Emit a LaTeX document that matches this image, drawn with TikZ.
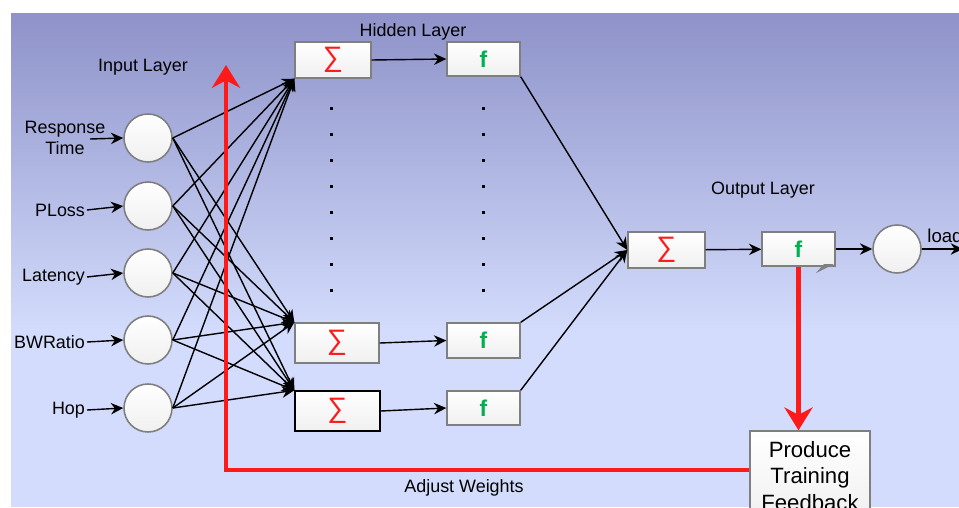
\documentclass[tikz,border=0pt]{standalone}
\usepackage{fontspec}
\setmainfont{Liberation Sans}
\usetikzlibrary{arrows.meta}
\definecolor{bgtop}{HTML}{8E92C9}
\definecolor{bgbot}{HTML}{D3DCFC}
\definecolor{sigred}{HTML}{FF1A1A}
\definecolor{fgreen}{HTML}{00B050}
\definecolor{boxline}{HTML}{7F7F7F}

\begin{document}
\begin{tikzpicture}[x=0.02cm,y=-0.02cm,font=\fontsize{10.2}{12}\selectfont]
\tikzset{unit/.style={circle,draw=boxline,line width=0.9pt,top color=white,bottom color=gray!12,minimum size=0.96cm,inner sep=0},
  sumbox/.style={draw=boxline,line width=0.8pt,top color=white,bottom color=gray!12,minimum width=1.52cm,minimum height=0.72cm,inner sep=0,text=sigred,font=\fontsize{16}{16}\selectfont},
  actbox/.style={sumbox,text=fgreen,font=\fontsize{13}{13}\selectfont\bfseries,minimum width=1.46cm,minimum height=0.68cm},
  wire/.style={-{Stealth[length=7pt,width=6.5pt]},line width=0.8pt},
  feedback/.style={sigred,line width=2.8pt,-{Stealth[length=13pt,width=16pt]}}}
\useasboundingbox (0,0) rectangle (959,507);
\clip (0,0) rectangle (959,507);
\fill[top color=bgtop,bottom color=bgbot] (11,13) rectangle (959,331);
\fill[bgbot] (11,330) rectangle (959,507);
\node (inlayer) at (143,67) {Input Layer};
\node (hidlayer) at (413,32) {Hidden Layer};
\node (outlayer) at (763,190) {Output Layer};
\node (adjust) at (464,488) {Adjust Weights};
\foreach \y [count=\i] in {138,206,273,340,408}
  \node[unit] (in\i) at (148,\y) {};
\node[align=center,inner sep=0] (lab1) at (65,138) {Response\\Time};
\coordinate (rt) at (90,139);
\draw[wire] (rt) -- (in1.west);
\foreach \t/\y [count=\i from 2] in {PLoss/210,Latency/277,BWRatio/342,Hop/410}{
  \node[anchor=east,inner sep=1pt] (lab\i) at (87,\y) {\t};
  \draw[wire] (lab\i.east) -- (in\i.west);}
\node[sumbox] (s1) at (333,60) {∑};
\node[sumbox,minimum width=1.68cm,minimum height=0.8cm] (s2) at (337,343) {∑};
\node[sumbox,draw=black,minimum width=1.7cm,minimum height=0.8cm] (s3) at (337.5,411) {∑};
\node[actbox] (f1) at (483.5,59) {f};
\node[actbox,minimum height=0.7cm] (f2) at (483.5,340.5) {f};
\node[actbox] (f3) at (483.5,408) {f};
\foreach \k in {0,...,7}{
  \fill (329.5,106.5+26*\k) rectangle +(3,3);
  \fill (481.5,106.5+26*\k) rectangle +(3,3);}
\foreach \i in {1,...,5}{
  \draw[wire] (in\i.east) -- (s1.south west);
  \draw[wire] (in\i.east) -- (s2.north west);
  \draw[wire] (in\i.east) -- (s3.north west);}
\foreach \i in {1,2,3}
  \draw[wire] (s\i.east) -- (f\i.west);
\node[sumbox,minimum width=1.54cm] (os) at (666.5,250) {∑};
\node[actbox] (of) at (798.5,249) {f};
\node[unit] (out) at (897,249) {};
\node[anchor=base west,inner sep=0,font=\fontsize{10.6}{12}\selectfont] (loadlab) at (927,242) {load};
\coordinate (load) at (963,249);
\draw[wire] (f1.south east) -- (os.west);
\draw[wire] (f2.north east) -- (os.west);
\draw[wire] (f3.north east) -- (os.west);
\draw[wire] (os) -- (of);
\draw[wire] (of) -- (out);
\draw[wire] (out) -- (load);
\fill[gray] (816,273) -- (824,264) -- (834,264) -- cycle;
\node[draw=boxline,line width=0.8pt,top color=white,bottom color=gray!12,minimum width=2.4cm,minimum height=1.8cm,align=center,inner sep=0,font=\fontsize{12.6}{15.3}\selectfont] (fb) at (810,476) {Produce\\Training\\Feedback};
\coordinate (bend) at (226,470);
\coordinate (uptip) at (226,65);
\draw[feedback] (bend -| fb.west) -- (bend) -- (uptip);
\draw[feedback] (of.south) -- (of.south |- fb.north);
\end{tikzpicture}
\end{document}
